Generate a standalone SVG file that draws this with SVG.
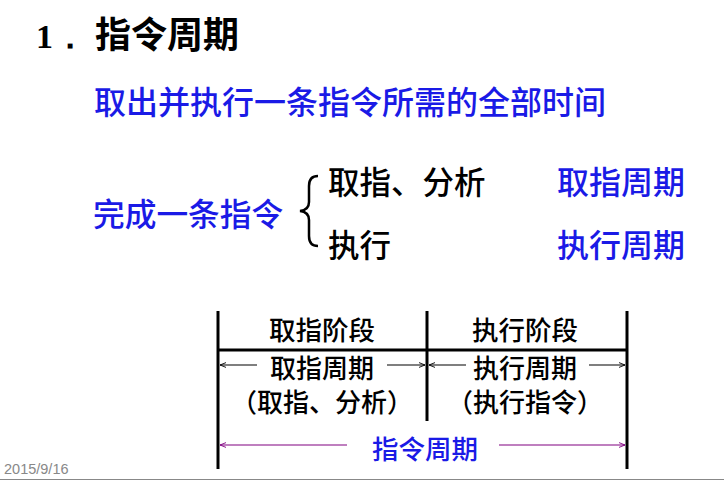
<svg xmlns="http://www.w3.org/2000/svg" width="724" height="481" viewBox="0 0 724 481">
<style>
.cjk{font-family:"Noto Sans CJK SC","Noto Sans",sans-serif;font-weight:500;}
.blue{fill:#1a1ae6;}
.blk{fill:#000;}
.ln{stroke:#000;stroke-width:3;fill:none;}
.thin{stroke:#000;stroke-width:1.2;fill:none;}
.pur{stroke:#800080;stroke-width:1.2;fill:none;}
</style>
<defs>
<marker id="ah" viewBox="0 0 10 10" refX="10" refY="5" markerWidth="8" markerHeight="6" orient="auto-start-reverse" markerUnits="userSpaceOnUse"><path d="M0,1 L10,5 L0,9" fill="none" stroke="#000" stroke-width="1.5"/></marker>
<marker id="ahp" viewBox="0 0 10 10" refX="10" refY="5" markerWidth="8" markerHeight="6" orient="auto-start-reverse" markerUnits="userSpaceOnUse"><path d="M0,1 L10,5 L0,9" fill="none" stroke="#800080" stroke-width="1.5"/></marker>
</defs>
<rect width="724" height="481" fill="#fff"/>
<g id="title">
<text x="36" y="48" font-family="Liberation Serif,serif" font-weight="bold" font-size="34" class="blk">1．</text>
<text x="95" y="48" font-family="Noto Sans CJK SC,sans-serif" font-weight="bold" font-size="36" class="blk">指令周期</text>
</g>
<g id="definition"><text x="94" y="114" class="cjk blue" font-size="32">取出并执行一条指令所需的全部时间</text></g>
<g id="complete"><text x="93" y="226" class="cjk blue" font-size="31.7">完成一条指令</text></g>
<g id="brace"><path d="M318,176 Q309,176 309,186 L309,202 Q309,210 300,211 Q309,212 309,220 L309,236 Q309,246 318,246" fill="none" stroke="#000" stroke-width="2.5"/></g>
<g id="fetch-analyze"><text x="328" y="194" class="cjk blk" font-size="31.5">取指、分析</text></g>
<g id="execute"><text x="328" y="257" class="cjk blk" font-size="31.5">执行</text></g>
<g id="fetch-cycle-label"><text x="557" y="194" class="cjk blue" font-size="32">取指周期</text></g>
<g id="exec-cycle-label"><text x="557" y="257" class="cjk blue" font-size="32">执行周期</text></g>
<g id="timeline">
<line class="ln" x1="218" y1="311" x2="218" y2="469"/>
<line class="ln" x1="427" y1="311" x2="427" y2="421"/>
<line class="ln" x1="627" y1="311" x2="627" y2="469"/>
<line class="ln" x1="218" y1="350" x2="627" y2="350"/>
</g>
<g id="connectors">
<line class="thin" x1="257" y1="365" x2="220" y2="365" marker-end="url(#ah)"/>
<line class="thin" x1="387" y1="365" x2="425" y2="365" marker-end="url(#ah)"/>
<line class="thin" x1="466" y1="365" x2="429" y2="365" marker-end="url(#ah)"/>
<line class="thin" x1="589" y1="365" x2="625" y2="365" marker-end="url(#ah)"/>
<line class="pur" x1="347" y1="445" x2="220" y2="445" marker-end="url(#ahp)"/>
<line class="pur" x1="499" y1="445" x2="625" y2="445" marker-end="url(#ahp)"/>
</g>
<g id="fetch-stage"><text x="322" y="340" text-anchor="middle" class="cjk blk" font-size="26.5">取指阶段</text></g>
<g id="exec-stage"><text x="525" y="340" text-anchor="middle" class="cjk blk" font-size="26.5">执行阶段</text></g>
<g id="fetch-cycle"><text x="322" y="378" text-anchor="middle" class="cjk blk" font-size="26">取指周期</text>
<text x="322" y="412" text-anchor="middle" class="cjk blk" font-size="26">（取指、分析）</text></g>
<g id="exec-cycle"><text x="525" y="378" text-anchor="middle" class="cjk blk" font-size="26">执行周期</text>
<text x="525" y="412" text-anchor="middle" class="cjk blk" font-size="26">（执行指令）</text></g>
<g id="instr-cycle"><text x="425" y="459" text-anchor="middle" class="cjk blue" font-size="26.5">指令周期</text></g>
<g id="footer">
<text x="4" y="474" font-family="Liberation Sans,sans-serif" font-size="14.5" fill="#888">2015/9/16</text>
<line x1="0" y1="479.5" x2="724" y2="479.5" stroke="#888" stroke-width="1"/>
</g>
</svg>
